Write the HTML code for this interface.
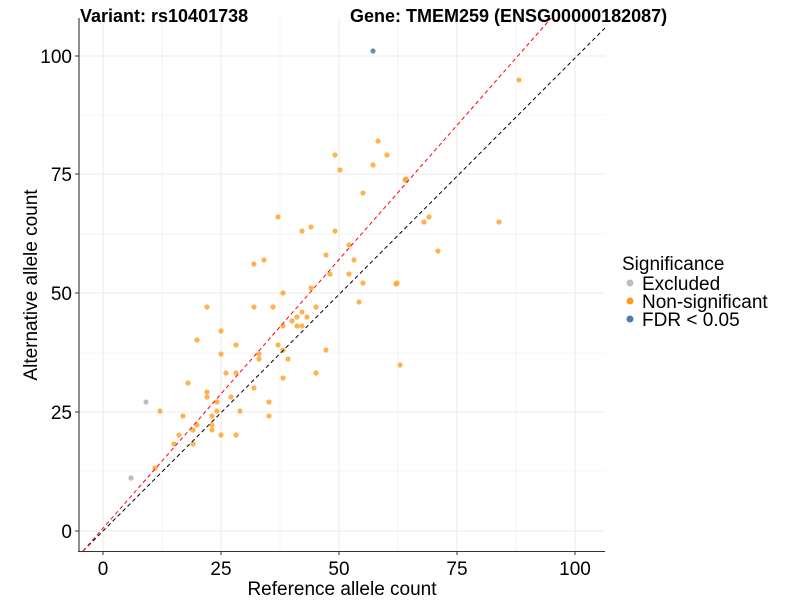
<!DOCTYPE html>
<html><head><meta charset="utf-8"><style>body{margin:0;background:#fff}svg{display:block}</style></head><body>
<svg width="800" height="600" xmlns="http://www.w3.org/2000/svg" font-family="Liberation Sans, sans-serif">
<defs><clipPath id="c"><rect x="79" y="18" width="526" height="533"/></clipPath></defs>
<g stroke="#ebebeb" stroke-width="0.6">
<line x1="162" y1="18" x2="162" y2="551"/><line x1="280" y1="18" x2="280" y2="551"/><line x1="398" y1="18" x2="398" y2="551"/><line x1="516" y1="18" x2="516" y2="551"/>
<line x1="79" y1="471" x2="605" y2="471"/><line x1="79" y1="353" x2="605" y2="353"/><line x1="79" y1="234" x2="605" y2="234"/><line x1="79" y1="115" x2="605" y2="115"/>
</g>
<g stroke="#ebebeb" stroke-width="1.1">
<line x1="103" y1="18" x2="103" y2="551"/><line x1="221" y1="18" x2="221" y2="551"/><line x1="339" y1="18" x2="339" y2="551"/><line x1="457" y1="18" x2="457" y2="551"/><line x1="575" y1="18" x2="575" y2="551"/>
<line x1="79" y1="531" x2="605" y2="531"/><line x1="79" y1="412" x2="605" y2="412"/><line x1="79" y1="293" x2="605" y2="293"/><line x1="79" y1="174" x2="605" y2="174"/><line x1="79" y1="56" x2="605" y2="56"/>
</g>
<g clip-path="url(#c)">
<g fill="#ffa533" fill-opacity="0.85">
<circle cx="519" cy="80" r="2.6"/><circle cx="378" cy="141" r="2.6"/><circle cx="335" cy="155" r="2.6"/><circle cx="387" cy="155" r="2.6"/><circle cx="340" cy="170" r="2.6"/><circle cx="373" cy="165" r="2.6"/><circle cx="406" cy="179" r="2.6"/><circle cx="363" cy="193" r="2.6"/><circle cx="278" cy="217" r="2.6"/><circle cx="302" cy="231" r="2.6"/><circle cx="311" cy="227" r="2.6"/><circle cx="335" cy="231" r="2.6"/><circle cx="349" cy="245" r="2.6"/><circle cx="326" cy="255" r="2.6"/><circle cx="254" cy="264" r="2.6"/><circle cx="264" cy="260" r="2.6"/><circle cx="330" cy="274" r="2.6"/><circle cx="349" cy="274" r="2.6"/><circle cx="354" cy="260" r="2.6"/><circle cx="363" cy="283" r="2.6"/><circle cx="397" cy="283" r="2.6"/><circle cx="359" cy="302" r="2.6"/><circle cx="311" cy="288" r="2.6"/><circle cx="283" cy="293" r="2.6"/><circle cx="254" cy="307" r="2.6"/><circle cx="273" cy="307" r="2.6"/><circle cx="316" cy="307" r="2.6"/><circle cx="207" cy="307" r="2.6"/><circle cx="302" cy="312" r="2.6"/><circle cx="297" cy="317" r="2.6"/><circle cx="307" cy="317" r="2.6"/><circle cx="292" cy="321" r="2.6"/><circle cx="283" cy="326" r="2.6"/><circle cx="297" cy="326" r="2.6"/><circle cx="302" cy="326" r="2.6"/><circle cx="221" cy="331" r="2.6"/><circle cx="197" cy="340" r="2.6"/><circle cx="236" cy="345" r="2.6"/><circle cx="278" cy="345" r="2.6"/><circle cx="283" cy="350" r="2.6"/><circle cx="221" cy="354" r="2.6"/><circle cx="326" cy="350" r="2.6"/><circle cx="259" cy="354" r="2.6"/><circle cx="259" cy="359" r="2.6"/><circle cx="288" cy="359" r="2.6"/><circle cx="226" cy="373" r="2.6"/><circle cx="236" cy="373" r="2.6"/><circle cx="316" cy="373" r="2.6"/><circle cx="283" cy="378" r="2.6"/><circle cx="188" cy="383" r="2.6"/><circle cx="254" cy="388" r="2.6"/><circle cx="207" cy="392" r="2.6"/><circle cx="207" cy="397" r="2.6"/><circle cx="231" cy="397" r="2.6"/><circle cx="217" cy="402" r="2.6"/><circle cx="269" cy="402" r="2.6"/><circle cx="160" cy="411" r="2.6"/><circle cx="217" cy="411" r="2.6"/><circle cx="240" cy="411" r="2.6"/><circle cx="183" cy="416" r="2.6"/><circle cx="212" cy="416" r="2.6"/><circle cx="269" cy="416" r="2.6"/><circle cx="197" cy="425" r="2.6"/><circle cx="212" cy="425" r="2.6"/><circle cx="193" cy="430" r="2.6"/><circle cx="212" cy="430" r="2.6"/><circle cx="179" cy="435" r="2.6"/><circle cx="221" cy="435" r="2.6"/><circle cx="236" cy="435" r="2.6"/><circle cx="174" cy="444" r="2.6"/><circle cx="193" cy="444" r="2.6"/><circle cx="155" cy="468" r="2.6"/>
<circle cx="499" cy="222" r="2.6"/><circle cx="438" cy="251" r="2.6"/><circle cx="400" cy="365" r="2.6"/><circle cx="396" cy="284" r="2.6"/><circle cx="429" cy="217" r="2.6"/><circle cx="424" cy="222" r="2.6"/><circle cx="405" cy="180" r="2.6"/>
</g>
<circle cx="146" cy="402" r="2.6" fill="#bdbdbd"/><circle cx="131" cy="478" r="2.6" fill="#bdbdbd"/>
<circle cx="373" cy="51" r="2.6" fill="#4a7db5" fill-opacity="0.85"/>
<line x1="83" y1="551" x2="609" y2="24" stroke="#000" stroke-dasharray="4,3" stroke-width="1"/>
<line x1="83" y1="551" x2="553" y2="16" stroke="#ff0000" stroke-dasharray="4,3" stroke-width="1"/>
</g>
<line x1="79" y1="18" x2="79" y2="552" stroke="#333" stroke-width="1.1"/>
<line x1="78" y1="551.5" x2="605" y2="551.5" stroke="#333" stroke-width="1.1"/>
<g stroke="#333"><line x1="103" y1="551" x2="103" y2="555"/><line x1="221" y1="551" x2="221" y2="555"/><line x1="339" y1="551" x2="339" y2="555"/><line x1="457" y1="551" x2="457" y2="555"/><line x1="575" y1="551" x2="575" y2="555"/>
<line x1="75" y1="531" x2="79" y2="531"/><line x1="75" y1="412" x2="79" y2="412"/><line x1="75" y1="293" x2="79" y2="293"/><line x1="75" y1="174" x2="79" y2="174"/><line x1="75" y1="56" x2="79" y2="56"/></g>
<g font-size="19" fill="#000" text-anchor="middle">
<text x="103" y="575">0</text><text x="221" y="575">25</text><text x="339" y="575">50</text><text x="457" y="575">75</text><text x="575" y="575">100</text>
</g>
<g font-size="19" fill="#000" text-anchor="end">
<text x="72" y="538">0</text><text x="72" y="419">25</text><text x="72" y="300">50</text><text x="72" y="181">75</text><text x="72" y="63">100</text>
</g>
<text x="342" y="595" font-size="19" text-anchor="middle">Reference allele count</text>
<text transform="translate(37,285) rotate(-90)" font-size="19" text-anchor="middle">Alternative allele count</text>
<text x="80" y="22" font-size="18" font-weight="bold">Variant: rs10401738</text>
<text x="350" y="22" font-size="18" font-weight="bold">Gene: TMEM259 (ENSG00000182087)</text>
<text x="622" y="270" font-size="19">Significance</text>
<circle cx="630" cy="283" r="3.5" fill="#bdbdbd"/><text x="642" y="290" font-size="19">Excluded</text>
<circle cx="630" cy="301" r="3.5" fill="#ff9a1a"/><text x="642" y="308" font-size="19">Non-significant</text>
<circle cx="630" cy="319" r="3.5" fill="#4a7db5"/><text x="642" y="326" font-size="19">FDR &lt; 0.05</text>
</svg>
</body></html>
